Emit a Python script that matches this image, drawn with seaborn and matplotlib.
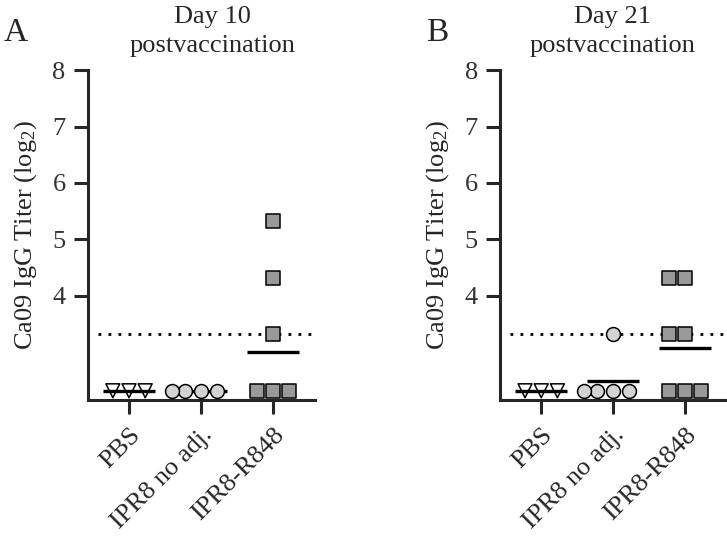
import pandas as pd
import matplotlib.pyplot as plt
import seaborn as sns

# groups on the x axis
groups = ["PBS", "IPR8 no adj.", "IPR8-R848"]

# Ca09 IgG titers (log2), day 10
d10_pbs = [2.32, 2.32, 2.32]
d10_ipr8 = [2.32, 2.32, 2.32, 2.32]
d10_r848 = [2.32, 2.32, 2.32, 3.32, 4.32, 5.32]
d10_means = [2.32, 2.32, 3.01]

# day 21
d21_pbs = [2.32, 2.32, 2.32]
d21_ipr8 = [2.32, 2.32, 2.32, 2.32, 3.32]
d21_r848 = [2.32, 2.32, 2.32, 3.32, 3.32, 4.32, 4.32]
d21_means = [2.32, 2.49, 3.07]

cutoff = 3.32
yticks = [4, 5, 6, 7, 8]

markers = ["v", "o", "s"]
faces = ["white", "#d3d3d3", "#999999"]

sns.set_style("ticks")
plt.rcParams["font.family"] = ["Liberation Serif", "DejaVu Serif"]
plt.rcParams["mathtext.fontset"] = "custom"
plt.rcParams["mathtext.rm"] = "Liberation Serif"
plt.rcParams["mathtext.it"] = "Liberation Serif"

fig = plt.figure(figsize=(7.27, 5.45), dpi=100)
axA = fig.add_axes([0.121, 0.266, 0.312, 0.6055])
axB = fig.add_axes([0.688, 0.266, 0.312, 0.6055])


def panel(ax, values, means):
    for grp, vals, mk, fc in zip(groups, values, markers, faces):
        df = pd.DataFrame({"group": grp, "titer": vals})
        sns.swarmplot(data=df, x="group", y="titer", order=groups, marker=mk,
                      color=fc, edgecolor="black", linewidth=1.1, size=10,
                      ax=ax, zorder=3)
    # triangles are open
    ax.collections[0].set_facecolor("none")

    mdf = pd.DataFrame({"group": groups, "titer": means})
    sns.pointplot(data=mdf, x="group", y="titer", order=groups, color="black",
                  marker="_", markersize=37, markeredgewidth=2.4,
                  linestyle="none", errorbar=None, ax=ax, zorder=2)

    ax.axhline(cutoff, xmin=0.045, xmax=0.99, color="black", lw=2,
               linestyle=(0, (1, 2.6)), zorder=1)

    ax.set_xlim(-0.57, 2.58)
    ax.set_ylim(2.156, 8)
    ax.set_yticks(yticks)
    sns.despine(ax=ax)
    for s in ["left", "bottom"]:
        ax.spines[s].set_linewidth(2.2)
    ax.tick_params(width=2.2, length=10, labelsize=19)
    ax.tick_params(axis="y", pad=6, labelcolor="#333333")
    ax.tick_params(axis="x", pad=7)
    ax.set_xlabel("")
    ax.set_ylabel("Ca09 IgG Titer (log$_2$)", fontsize=19, labelpad=10)
    plt.setp(ax.get_xticklabels(), rotation=45, ha="right",
             rotation_mode="anchor")


panel(axA, [d10_pbs, d10_ipr8, d10_r848], d10_means)
panel(axB, [d21_pbs, d21_ipr8, d21_r848], d21_means)

fig.text(212 / 727, 1 - 6 / 545, "Day 10\npostvaccination", ha="center",
         va="top", fontsize=19, linespacing=1.4)
fig.text(612 / 727, 1 - 6 / 545, "Day 21\npostvaccination", ha="center",
         va="top", fontsize=19, linespacing=1.4)
fig.text(4 / 727, 1 - 33 / 545, "A", fontsize=24, va="center", ha="left")
fig.text(426 / 727, 1 - 33 / 545, "B", fontsize=24, va="center", ha="left")

plt.savefig("out.png", dpi=100)
